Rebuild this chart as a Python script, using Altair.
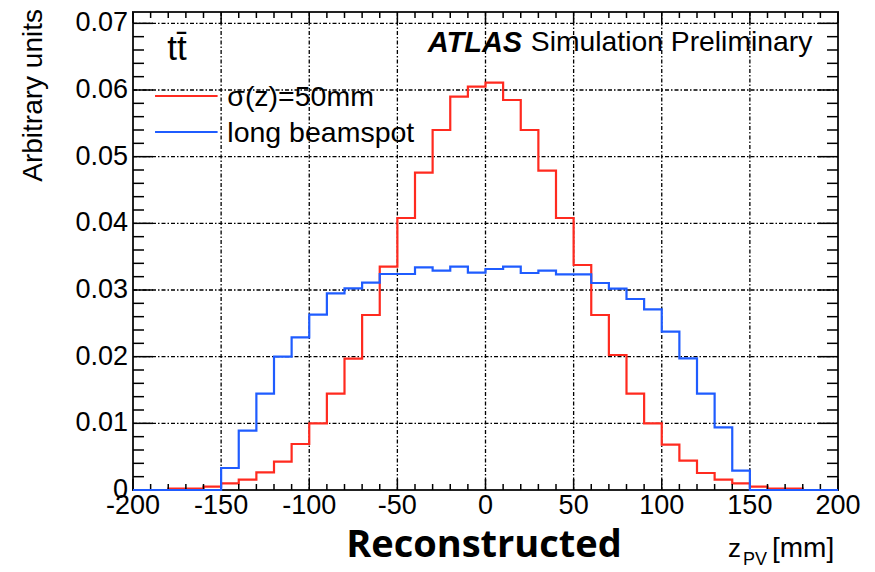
import altair as alt
import pandas as pd

# Histogram bins: 10 mm wide, lower edges from -200 to 190 mm
bin_lo = list(range(-200, 200, 10))

# sigma(z) = 50 mm beamspot
sigma50 = [
    0.0, 0.0, 0.0002, 0.0002, 0.0005,
    0.001, 0.00155, 0.00265, 0.00425, 0.0069,
    0.01, 0.01445, 0.0197, 0.02625, 0.0335,
    0.0408, 0.0476, 0.054, 0.059, 0.0605,
    0.0611, 0.0585, 0.054, 0.0479, 0.0408,
    0.03375, 0.02625, 0.02025, 0.01445, 0.01,
    0.0068, 0.0044, 0.00255, 0.00155, 0.001,
    0.0005, 0.0002, 0.0002, 0.0, 0.0,
]

# long beamspot
long_bs = [
    0.0, 0.0, 0.0, 0.0, 0.0,
    0.0033, 0.0089, 0.01445, 0.02, 0.0229,
    0.0263, 0.0295, 0.03025, 0.0311, 0.0324,
    0.0324, 0.0334, 0.0329, 0.0335, 0.0326,
    0.03315, 0.0335, 0.03255, 0.0329, 0.03235,
    0.03235, 0.03105, 0.0302, 0.02865, 0.0271,
    0.02375, 0.01975, 0.01445, 0.0094, 0.0029,
    0.0, 0.0, 0.0, 0.0, 0.0,
]

series_names = ["σ(z)=50mm", "long beamspot"]
series_colors = ["#ff2a1f", "#1f5cff"]

# axis ticks and their labels
x_major = [-200, -150, -100, -50, 0, 50, 100, 150, 200]
x_labels = ["-200", "-150", "-100", "-50", "0", "50", "100", "150", "200"]
x_minor = [v for v in range(-200, 201, 10) if v % 50 != 0]
y_major = [0.0, 0.01, 0.02, 0.03, 0.04, 0.05, 0.06, 0.07]
y_labels = ["0", "0.01", "0.02", "0.03", "0.04", "0.05", "0.06", "0.07"]
y_minor = [round(0.002 * i, 3) for i in range(36) if i % 5 != 0]

W, H = 705, 478
X_DOMAIN = [-200, 200]
Y_DOMAIN = [0, 0.0717]
FONT = "Liberation Sans"
GRID_DASH = [4, 2, 1.5, 2]

xs = alt.Scale(domain=X_DOMAIN, nice=False, zero=False)
ys = alt.Scale(domain=Y_DOMAIN, nice=False, zero=False)


def X(field):
    return alt.X(field, scale=xs, axis=None)


def Y(field):
    return alt.Y(field, scale=ys, axis=None)


def steps(vals, name):
    xv = bin_lo + [200]
    yv = vals + [vals[-1]]
    return pd.DataFrame({"z": xv, "v": yv, "series": name, "k": list(range(len(xv)))})


# dash-dot grid at the major ticks
xgrid_df = pd.DataFrame({"t": x_major[1:-1]})
ygrid_df = pd.DataFrame({"t": y_major[1:]})
xgrid = alt.Chart(xgrid_df).mark_rule(color="black", strokeWidth=1.3, strokeDash=GRID_DASH).encode(
    x=X("t:Q"), y=alt.value(0), y2=alt.value(H))
ygrid = alt.Chart(ygrid_df).mark_rule(color="black", strokeWidth=1.3, strokeDash=GRID_DASH).encode(
    y=Y("t:Q"), x=alt.value(0), x2=alt.value(W))

# histogram outlines
hist_layers = []
for vals, name, col in zip([sigma50, long_bs], series_names, series_colors):
    hist_layers.append(
        alt.Chart(steps(vals, name))
        .mark_line(interpolate="step-after", strokeWidth=2.2, color=col)
        .encode(x=X("z:Q"), y=Y("v:Q"), order="k:Q")
    )


# tick marks drawn inside the frame on all four sides
def xticks(vals, length):
    df = pd.DataFrame({"t": vals})
    bottom = alt.Chart(df).mark_rule(color="black", strokeWidth=1.5).encode(
        x=X("t:Q"), y=alt.value(H), y2=alt.value(H - length))
    top = alt.Chart(df).mark_rule(color="black", strokeWidth=1.5).encode(
        x=X("t:Q"), y=alt.value(0), y2=alt.value(length))
    return [bottom, top]


def yticks(vals, length):
    df = pd.DataFrame({"t": vals})
    left = alt.Chart(df).mark_rule(color="black", strokeWidth=1.5).encode(
        y=Y("t:Q"), x=alt.value(0), x2=alt.value(length))
    right = alt.Chart(df).mark_rule(color="black", strokeWidth=1.5).encode(
        y=Y("t:Q"), x=alt.value(W), x2=alt.value(W - length))
    return [left, right]


tick_layers = xticks(x_major, 11) + xticks(x_minor, 6) + yticks(y_major, 20) + yticks(y_minor, 11)

# tick labels
xlab = alt.Chart(pd.DataFrame({"t": x_major, "lab": x_labels})).mark_text(
    align="center", baseline="top", font=FONT, fontSize=27, color="black"
).encode(x=X("t:Q"), y=alt.value(H + 3), text="lab:N")
ylab = alt.Chart(pd.DataFrame({"t": y_major, "lab": y_labels})).mark_text(
    align="right", baseline="middle", font=FONT, fontSize=27, color="black"
).encode(y=Y("t:Q"), x=alt.value(-5), text="lab:N")

# legend
leg = pd.DataFrame({
    "x0": [-187.5, -187.5], "x1": [-152.0, -152.0], "xt": [-146.5, -146.5],
    "y": [0.0591, 0.0537], "label": series_names, "color": series_colors,
})
leg_lines = alt.Chart(leg).mark_rule(strokeWidth=2.2).encode(
    x=X("x0:Q"), x2="x1:Q", y=Y("y:Q"), color=alt.Color("color:N", scale=None),
)
leg_text = alt.Chart(leg).mark_text(
    align="left", baseline="middle", font=FONT, fontSize=28.5, color="black", dy=1
).encode(x=X("xt:Q"), y=Y("y:Q"), text="label:N")

# in-frame labels
tt_text = alt.Chart(pd.DataFrame({"x": [-180.5], "y": [0.0662], "txt": ["tt\u0304"]})).mark_text(
    align="left", baseline="middle", font=FONT, fontSize=35, color="black"
).encode(x=X("x:Q"), y=Y("y:Q"), text="txt:N")

atlas_text = alt.Chart(pd.DataFrame({"x": [-32.8], "y": [0.0671], "txt": ["ATLAS"]})).mark_text(
    align="left", baseline="middle", font=FONT, fontSize=29, fontWeight="bold",
    fontStyle="italic", color="black"
).encode(x=X("x:Q"), y=Y("y:Q"), text="txt:N")

sim_text = alt.Chart(pd.DataFrame({"x": [25.7], "y": [0.0671], "txt": ["Simulation Preliminary"]})).mark_text(
    align="left", baseline="middle", font=FONT, fontSize=28.3, color="black"
).encode(x=X("x:Q"), y=Y("y:Q"), text="txt:N")

# axis titles
ytitle = alt.Chart(pd.DataFrame({"t": ["Arbitrary units"]})).mark_text(
    angle=270, align="right", baseline="middle", font=FONT, fontSize=28, color="black"
).encode(x=alt.value(-99), y=alt.value(-3), text="t:N")

z_main = alt.Chart(pd.DataFrame({"t": ["z"]})).mark_text(
    align="left", baseline="alphabetic", font=FONT, fontSize=26, color="black"
).encode(x=alt.value(595), y=alt.value(545), text="t:N")
z_sub = alt.Chart(pd.DataFrame({"t": ["PV"]})).mark_text(
    align="left", baseline="alphabetic", font=FONT, fontSize=18, color="black"
).encode(x=alt.value(610), y=alt.value(553), text="t:N")
z_unit = alt.Chart(pd.DataFrame({"t": ["[mm]"]})).mark_text(
    align="left", baseline="alphabetic", font=FONT, fontSize=28, color="black"
).encode(x=alt.value(639), y=alt.value(545), text="t:N")

recon = alt.Chart(pd.DataFrame({"t": ["Reconstructed"]})).mark_text(
    align="center", baseline="alphabetic", font="Open Sans", fontSize=38, fontWeight="bold", color="black"
).encode(x=alt.value(351), y=alt.value(545), text="t:N")

chart = alt.layer(
    xgrid, ygrid, hist_layers[0], *tick_layers, hist_layers[1],
    xlab, ylab, leg_lines, leg_text, tt_text, atlas_text, sim_text,
    ytitle, z_main, z_sub, z_unit, recon,
).resolve_scale(x="shared", y="shared").properties(
    width=W, height=H,
    autosize=alt.AutoSizeParams(type="none"),
    padding={"left": 133, "top": 12, "right": 37, "bottom": 82},
    background="white",
).configure_view(
    stroke="#222222", strokeWidth=2
)

chart.save("out.html", embed_options={"renderer": "svg", "actions": False})
